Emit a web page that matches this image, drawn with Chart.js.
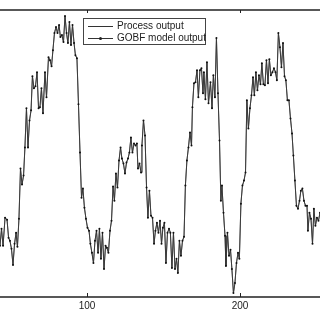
<!DOCTYPE html>
<html>
<head>
<meta charset="utf-8">
<script src="https://cdn.jsdelivr.net/npm/chart.js"></script>
<style>
    body { margin: 0; background: #fff; }
    #wrap { position: relative; width: 320px; height: 320px; }
    #legendBox {
        position: absolute; left: 83px; top: 18px; width: 121px; height: 25px;
        border: 1px solid #444; background: #fff;
        font-family: "Liberation Sans", Arial, sans-serif; font-size: 10px; color: #222;
    }
    .row { position: absolute; left: 0; height: 12px; line-height: 12px; white-space: nowrap; }
    .sample { position: absolute; left: 4px; top: 6px; width: 25px; border-top: 1px solid #333; }
    .dot { position: absolute; left: 11px; top: -2px; width: 3px; height: 3px; border-radius: 50%; background: #222; }
    .txt { position: absolute; left: 33px; top: 0; }
</style>
</head>
<body>
<div id="wrap">
    <canvas id="mychart" width="320" height="320"></canvas>
    <div id="legendBox">
        <div class="row" style="top:1px"><div class="sample"></div><span class="txt">Process output</span></div>
        <div class="row" style="top:13px"><div class="sample"><div class="dot"></div></div><span class="txt">GOBF model output</span></div>
    </div>
</div>
<script>
// sample index (x)
let sampleX = [
    43.1, 44.1, 45.1, 46.4, 47.7, 48.7, 49.6, 50.6, 51.6, 52.6, 53.6, 54.5, 55.5, 56.5, 57.5, 58.5, 59.4,
    60.4, 61.4, 62.4, 63.4, 64.3, 65.3, 66.3, 67.3, 68.3, 69.2, 70.2, 71.2, 72.5, 73.5, 74.8, 75.8, 76.8,
    77.7, 78.7, 79.7, 80.7, 81.7, 82.6, 83.6, 84.6, 85.6, 86.6, 87.5, 88.5, 89.5, 90.5, 91.5, 92.4, 93.4,
    94.4, 95.4, 96.4, 97.3, 98.3, 99.3, 100.3, 101.3, 102.2, 103.2, 104.2, 105.2, 106.2, 107.2, 108.1,
    109.1, 110.1, 111.1, 112.1, 113.0, 114.0, 115.0, 116.0, 117.0, 117.9, 118.9, 119.9, 120.9, 121.9,
    122.8, 123.8, 124.8, 125.8, 126.8, 127.7, 128.7, 129.7, 130.7, 131.7, 132.6, 133.3, 134.3, 135.3,
    135.9, 136.9, 137.9, 138.9, 139.8, 140.8, 141.8, 142.8, 143.8, 144.7, 145.7, 146.7,
    147.7, 148.7, 149.6, 150.6, 151.6, 152.6, 153.6, 154.5, 155.5, 156.5, 157.5, 158.5, 159.4, 160.4,
    161.4, 162.4, 163.4, 164.3, 165.3, 166.3, 167.3, 168.3, 168.9, 169.9, 170.9, 171.9, 172.8, 173.8,
    174.8, 175.8, 176.4, 177.4, 178.4, 179.4, 180.7, 181.7, 182.6, 183.6, 184.6, 185.6,
    186.6, 187.5, 188.2, 189.2, 190.2, 190.8, 191.8, 192.8, 193.8, 194.7, 195.7, 196.7, 197.7, 198.7,
    199.6, 200.6, 201.6, 202.6, 203.6, 204.5, 205.5, 206.5, 207.5, 208.5, 209.4, 210.4, 211.4, 212.4,
    213.4, 214.3, 215.3, 216.3, 217.3, 218.3, 219.2, 220.2, 221.2, 222.2, 223.2, 224.1, 225.1,
    226.1, 227.1, 228.1, 229.1, 230.0, 231.0, 232.0, 233.0, 234.0, 234.9, 235.9, 236.9, 237.9, 238.9,
    239.8, 240.8, 241.8, 242.8, 243.8, 244.4, 245.4, 246.4, 247.4, 248.3, 249.3, 250.3, 251.3, 252.3
];
// output level (arbitrary units, no y axis shown)
let outputY = [
    51, 68, 51, 79, 77, 59, 56, 48, 32, 53, 64, 50, 78, 128, 112, 121, 149,
    188, 149, 176, 186, 220, 208, 210, 224, 188, 189, 208, 183, 224, 199, 239, 236, 230,
    246, 263, 269, 263, 271, 259, 261, 254, 280, 263, 253, 274, 251, 271, 253, 241, 238,
    192, 144, 99, 108, 89, 78, 69, 66, 53, 44, 34, 56, 66, 44, 68,
    38, 64, 28, 51, 49, 44, 66, 76, 110, 96, 123, 109, 136, 149,
    138, 133, 123, 134, 138, 144, 159, 144, 153, 151, 153, 128, 133, 124,
    151, 176, 161, 109, 79, 106, 81, 79, 53, 66, 74, 64,
    76, 53, 69, 74, 34, 64, 68, 64, 29, 64, 28, 38, 24, 56,
    41, 56, 60, 111, 136, 149, 164, 151, 189, 213, 214, 226, 199, 226,
    228, 203, 224, 197, 234, 193, 214, 188, 221, 199, 258, 203,
    156, 96, 111, 84, 61, 31, 64, 41, 47, 28, 4, 14, 34, 44,
    38, 93, 111, 116, 124, 196, 168, 188, 201, 219, 201, 224, 206, 221,
    212, 233, 212, 211, 236, 213, 237, 221, 224, 228, 224, 216, 263,
    249, 229, 253, 220, 216, 196, 196, 178, 163, 141, 116, 91, 88, 96,
    106, 108, 96, 91, 91, 66, 84, 78, 53, 88, 71, 79, 76, 84
];
let xRange = [43.1, 252.3];
let yRange = [0, 286];
let xTicks = [100, 200];

// frame + inward ticks, matlab style
let framePlugin = {
    id: 'frame',
    afterDraw: function (chart) {
        let a = chart.chartArea;
        let c = chart.ctx;
        let sx = chart.scales.x;
        c.save();
        c.strokeStyle = '#222';
        c.lineWidth = 1.5;
        c.beginPath();
        c.moveTo(a.left, a.top);
        c.lineTo(a.right, a.top);
        c.moveTo(a.left, a.bottom);
        c.lineTo(a.right, a.bottom);
        c.stroke();
        c.lineWidth = 1;
        for (let i in xTicks) {
            let px = Math.round(sx.getPixelForValue(xTicks[i])) + 0.5;
            c.beginPath();
            c.moveTo(px, a.top);
            c.lineTo(px, a.top + 3);
            c.moveTo(px, a.bottom);
            c.lineTo(px, a.bottom - 4);
            c.stroke();
        }
        c.restore();
    }
};

function showChart() {
    let processPts = [];
    let modelPts = [];
    for (let i in sampleX) {
        processPts.push({ x: sampleX[i], y: outputY[i] });
        modelPts.push({ x: sampleX[i], y: outputY[i] });
    }

    let chartdata = {
        datasets: [{
            label: 'Process output',
            data: processPts,
            borderColor: '#555',
            borderWidth: 1,
            pointRadius: 0,
            order: 2
        }, {
            label: 'GOBF model output',
            data: modelPts,
            borderColor: '#333',
            borderWidth: 0.8,
            pointRadius: 1,
            pointBackgroundColor: '#111',
            pointBorderWidth: 0,
            order: 1
        }]
    };

    let ctx = document.getElementById('mychart');
    let myLineChart = new Chart(ctx, {
        type: 'line',
        data: chartdata,
        plugins: [framePlugin],
        options: {
            responsive: false,
            animation: false,
            layout: { autoPadding: false, padding: { top: 10, bottom: 5, left: 0, right: 0 } },
            plugins: { legend: { display: false }, tooltip: { enabled: false } },
            scales: {
                x: {
                    type: 'linear',
                    min: xRange[0],
                    max: xRange[1],
                    grid: { display: false, drawTicks: false },
                    border: { display: false },
                    afterBuildTicks: function (axis) {
                        axis.ticks = xTicks.map(function (v) { return { value: v }; });
                    },
                    ticks: {
                        padding: 3,
                        color: '#222',
                        font: { family: 'Liberation Sans, Arial, sans-serif', size: 10 }
                    }
                },
                y: {
                    display: false,
                    min: yRange[0],
                    max: yRange[1]
                }
            }
        }
    });
}

showChart();
</script>
</body>
</html>
